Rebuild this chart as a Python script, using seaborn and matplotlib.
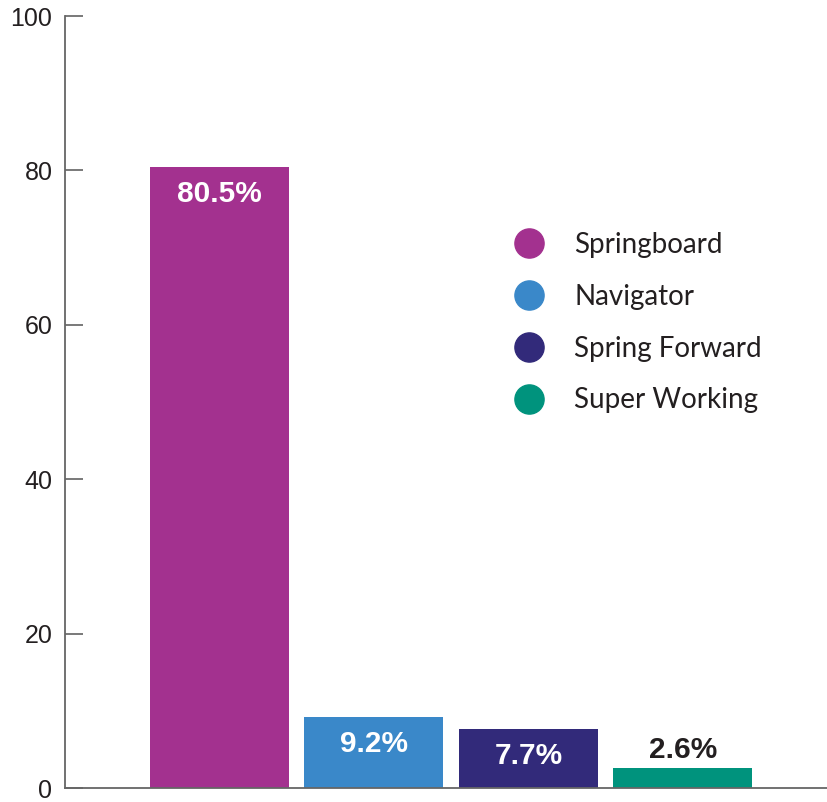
import matplotlib
matplotlib.use("Agg")
import matplotlib.pyplot as plt
from matplotlib.lines import Line2D
import seaborn as sns
import pandas as pd

programmes = ["Springboard", "Navigator", "Spring Forward", "Super Working"]
shares = [80.5, 9.2, 7.7, 2.6]
colours = ["#A3318F", "#3A88C9", "#322A7A", "#00937D"]
label_colours = ["white", "white", "white", "#231F20"]
yticks = [0, 20, 40, 60, 80, 100]

df = pd.DataFrame({"programme": programmes, "share": shares})

sns.set_style("white")
plt.rcParams["font.family"] = ["Liberation Sans", "DejaVu Sans"]

fig = plt.figure(figsize=(8.28, 8.02), dpi=100)
ax = fig.add_axes([65 / 828, 14 / 802, 1 - 65 / 828, 772 / 802])

sns.barplot(
    data=df, x="programme", y="share", hue="programme",
    palette=colours, width=0.9, saturation=1, legend=False,
    linewidth=0, ax=ax
)

# value labels: inside bar for big ones, above for the tiny one
for i, (v, c) in enumerate(zip(shares, label_colours)):
    if c == "white":
        y = v - 3.5
    else:
        y = v + 2.3
    ax.text(i, y, f"{v}%", ha="center", va="center", color=c,
            fontsize=21.5, fontweight="bold")

ax.set_xlim(-1, 3.94)
ax.set_ylim(0, 100)
ax.set_yticks(yticks)
ax.set_xticks([])
ax.set_xlabel("")
ax.set_ylabel("")
ax.tick_params(axis="y", left=True, direction="in", length=13, width=1.1,
               color="#555555", labelsize=18, labelcolor="#231F20", pad=9)

for side in ["top", "right"]:
    ax.spines[side].set_visible(False)
for side in ["left", "bottom"]:
    ax.spines[side].set_color("#666666")
    ax.spines[side].set_linewidth(1.3)

handles = [
    Line2D([], [], linestyle="none", marker="o", markersize=21,
           markerfacecolor=c, markeredgecolor=c)
    for c in colours
]
leg = ax.legend(
    handles, programmes, loc="upper left",
    bbox_to_anchor=(498 / 828, 1 - 218 / 802), bbox_transform=fig.transFigure,
    frameon=False, prop={"family": "Lato", "size": 20},
    handletextpad=1.05, labelspacing=0.93, borderpad=0, handlelength=1.2,
    labelcolor="#231F20"
)

fig.savefig("out.png", dpi=100)
plt.close(fig)
